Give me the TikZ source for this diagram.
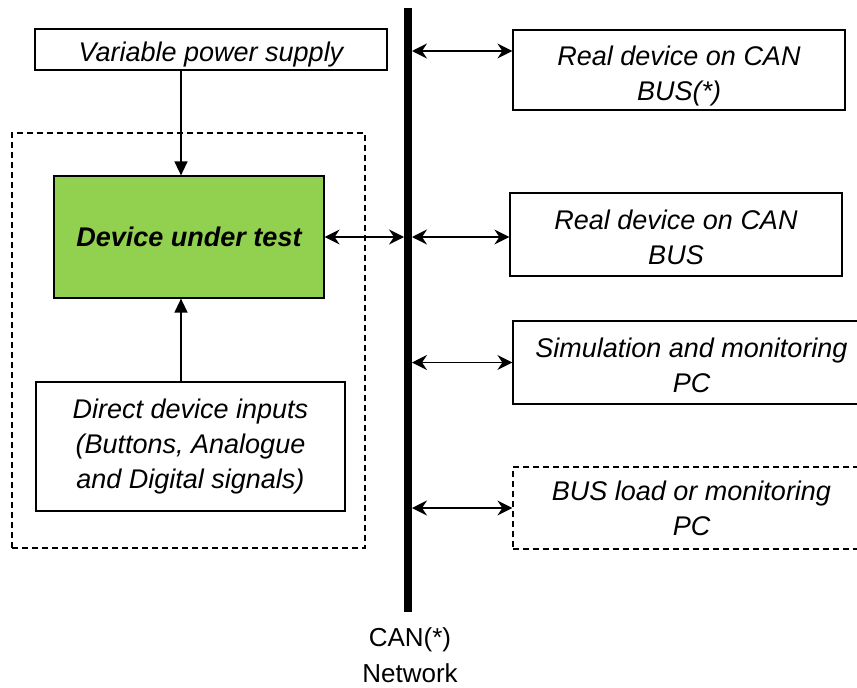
\documentclass[tikz,border=0pt]{standalone}
\usepackage{fontspec}
\setmainfont{Liberation Sans}
\usetikzlibrary{arrows.meta, positioning}
\definecolor{dutgreen}{RGB}{146,208,80}

\begin{document}
\begin{tikzpicture}[x=1pt, y=-1pt,
    box/.style={rectangle, draw=black, line width=1.2pt, align=center, inner sep=0pt,
                font=\fontsize{27}{35}\selectfont\itshape},
    dashbox/.style={box, dash pattern=on 6pt off 4pt},
    harr/.style={{Stealth[length=15pt, width=15pt, inset=5pt]}-{Stealth[length=15pt, width=15pt, inset=5pt]}, line width=1.3pt},
    varr/.style={-{Triangle[length=14pt, width=13pt]}, line width=1.3pt},
    bus/.style={line width=8pt}]
    \useasboundingbox (0,0) rectangle (857,688);
    % left side
    \node[dashbox, minimum width=353pt, minimum height=415pt] (frame) at (188.5,340.5) {};
    \node[box, minimum width=352pt, minimum height=41pt] (psu) at (211,49.5) {\rule{0pt}{30pt}Variable power supply};
    \node[box, fill=dutgreen, minimum width=270pt, minimum height=122pt,
          font=\fontsize{27}{35}\selectfont\bfseries\itshape] (dut) at (189,237) {Device under test};
    \node[box, minimum width=309pt, minimum height=129pt] (inputs) at (190.5,446.5)
        {Direct device inputs\\(Buttons, Analogue\\and Digital signals)};
    % right side
    \node[box, minimum width=332pt, minimum height=80pt] (dev1) at (679,70) {\rule{0pt}{32pt}Real device on CAN\\BUS(*)};
    \node[box, minimum width=332pt, minimum height=83pt] (dev2) at (676,234.5) {\rule{0pt}{26pt}Real device on CAN\\BUS};
    \node[box, minimum width=357pt, minimum height=83pt] (sim) at (691.5,362.5) {\rule{0pt}{25pt}Simulation and monitoring\\PC};
    \node[dashbox, minimum width=357pt, minimum height=82pt] (load) at (691.5,508) {BUS load or monitoring\\PC};
    % bus
    \coordinate (bustop) at (408,8);
    \coordinate (busbot) at (408,612);
    \draw[bus] (bustop) -- (busbot);
    \node[font=\fontsize{26}{36}\selectfont, align=center] (buslabel) at (410,655) {CAN(*)\\Network};
    % connectors
    \draw[varr] ([xshift=-8pt]dut.north |- psu.south) -- ([xshift=-8pt]dut.north);
    \draw[varr] ([xshift=-8pt]dut.south |- inputs.north) -- ([xshift=-8pt]dut.south);
    \draw[harr, shorten >=4pt] (dut.east) -- (dut.east -| bustop);
    \coordinate (p1) at ([yshift=19pt]dev1.west);
    \draw[harr, shorten <=4pt] (p1 -| bustop) -- (p1);
    \draw[harr, shorten <=4pt] ([yshift=-2.5pt]dev2.west -| bustop) -- ([yshift=-2.5pt]dev2.west);
    \draw[harr, shorten <=4pt] (sim.west -| bustop) -- (sim.west);
    \draw[harr, shorten <=4pt] (load.west -| bustop) -- (load.west);
\end{tikzpicture}
\end{document}
